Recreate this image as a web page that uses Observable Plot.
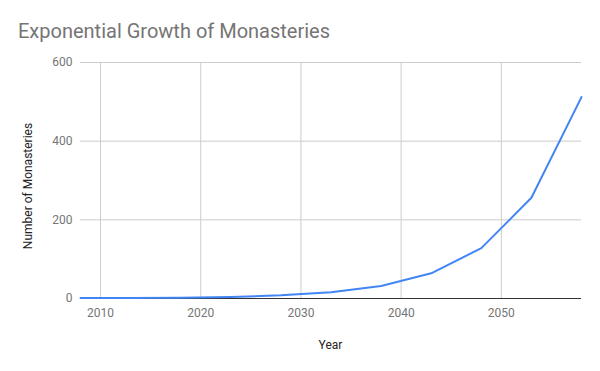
<!DOCTYPE html>
<html><head><meta charset="utf-8">
<script src="https://cdn.jsdelivr.net/npm/d3@7"></script>
<script src="https://cdn.jsdelivr.net/npm/@observablehq/plot@0.6"></script>
<style>
body{margin:0;background:#fff;font-family:Roboto,sans-serif;}
#title{height:50px;box-sizing:border-box;padding:19px 0 0 18px;font-size:20px;color:#757575;line-height:24px;}
</style></head>
<body>
<div id="title">Exponential Growth of Monasteries</div>
<div id="chart"></div>
<script>
const years = [2008, 2013, 2018, 2023, 2028, 2033, 2038, 2043, 2048, 2053, 2058];
const monasteries = [1, 1, 2, 4, 8, 16, 32, 64, 128, 256, 512];
const xTicks = [2010, 2020, 2030, 2040, 2050];
const yTicks = [0, 200, 400, 600];
const xTitle = "Year";
const yTitle = "Number of Monasteries";

const data = years.map((y, i) => ({year: y, value: monasteries[i]}));

const W = 600, H = 321;
const plot = Plot.plot({
  width: W, height: H,
  marginTop: 12, marginBottom: 73, marginLeft: 80, marginRight: 19,
  style: {fontFamily: "Roboto, sans-serif", fontSize: "12px", color: "#757575", background: "#fff"},
  x: {domain: [2008, 2058], label: null},
  y: {domain: [0, 600], label: null},
  marks: [
    Plot.gridX(xTicks, {stroke: "#cccccc", strokeOpacity: 1}),
    Plot.gridY(yTicks, {stroke: "#cccccc", strokeOpacity: 1}),
    Plot.axisX(xTicks, {tickSize: 0, tickPadding: 10, tickFormat: d => String(d), fill: "#757575", fontSize: 12, label: null}),
    Plot.axisY(yTicks, {tickSize: 0, tickPadding: 8, fill: "#757575", fontSize: 12, label: null}),
    Plot.ruleY([0], {stroke: "#333333", strokeWidth: 1}),
    Plot.line(data, {x: "year", y: "value", stroke: "#4285F4", strokeWidth: 2})
  ]
});
document.getElementById("chart").appendChild(plot);

const sx = plot.scale("x"), sy = plot.scale("y");
const svg = d3.select(plot);
const cx = (sx.range[0] + sx.range[1]) / 2;
const cy = (sy.range[0] + sy.range[1]) / 2;
svg.append("text").text(xTitle)
  .attr("x", cx).attr("y", sy.range[0] + 51)
  .attr("text-anchor", "middle").attr("fill", "#222").attr("font-size", 12)
  .attr("font-family", "Roboto, sans-serif");
svg.append("text").text(yTitle)
  .attr("transform", `translate(32,${cy + 6}) rotate(-90)`)
  .attr("text-anchor", "middle").attr("fill", "#222").attr("font-size", 12)
  .attr("font-family", "Roboto, sans-serif");
</script>
</body></html>
